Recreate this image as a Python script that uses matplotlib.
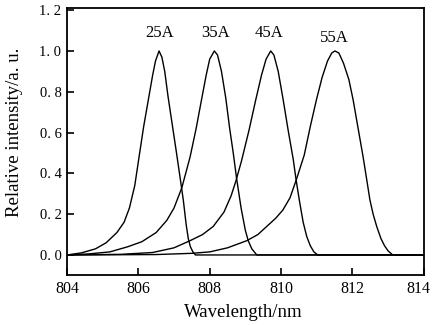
import matplotlib
matplotlib.use("Agg")
import matplotlib.pyplot as plt
from matplotlib.transforms import ScaledTranslation

plt.rcParams['font.family'] = ['Liberation Serif', 'DejaVu Serif']

# Series: wavelength (nm) and relative intensity
wl_25 = [804.0, 804.4, 804.8, 805.1, 805.4, 805.6, 805.75, 805.9, 806.02, 806.15, 806.3, 806.4,
         806.48, 806.58, 806.66, 806.74, 806.83, 806.95, 807.07, 807.17, 807.26, 807.34, 807.4,
         807.46, 807.53, 807.6, 814.0]
in_25 = [0.0, 0.01, 0.03, 0.06, 0.11, 0.16, 0.23, 0.34, 0.48, 0.63, 0.78, 0.88,
         0.95, 1.0, 0.97, 0.9, 0.78, 0.64, 0.50, 0.38, 0.27, 0.15, 0.08,
         0.04, 0.015, 0.0, 0.0]

wl_35 = [804.0, 804.6, 805.2, 805.7, 806.1, 806.5, 806.8, 807.0, 807.22, 807.45, 807.62, 807.77,
         807.9, 808.0, 808.13, 808.22, 808.33, 808.45, 808.56, 808.66, 808.75, 808.88, 809.0,
         809.08, 809.18, 809.32, 814.0]
in_35 = [0.0, 0.005, 0.015, 0.04, 0.065, 0.11, 0.17, 0.23, 0.33, 0.48, 0.62, 0.76,
         0.88, 0.96, 1.0, 0.98, 0.9, 0.77, 0.62, 0.50, 0.38, 0.23, 0.12,
         0.07, 0.03, 0.0, 0.0]

wl_45 = [804.0, 805.5, 806.4, 807.0, 807.45, 807.8, 808.1, 808.4, 808.6, 808.73, 808.89, 809.1,
         809.29, 809.45, 809.58, 809.71, 809.8, 809.92, 810.06, 810.2, 810.34, 810.42, 810.52,
         810.62, 810.72, 810.82, 810.92, 811.03, 814.0]
in_45 = [0.0, 0.003, 0.012, 0.035, 0.07, 0.1, 0.14, 0.21, 0.29, 0.36, 0.46, 0.61,
         0.76, 0.88, 0.96, 1.0, 0.98, 0.9, 0.76, 0.61, 0.47, 0.37, 0.26,
         0.16, 0.09, 0.045, 0.015, 0.0, 0.0]

wl_55 = [804.0, 806.5, 807.5, 808.0, 808.5, 809.04, 809.35, 809.6, 809.85, 810.05, 810.25, 810.43,
         810.65, 810.82, 810.99, 811.15, 811.3, 811.42, 811.51, 811.62, 811.75, 811.9, 812.02,
         812.15, 812.3, 812.4, 812.49, 812.58, 812.68, 812.8, 812.9, 813.0, 813.13, 814.0]
in_55 = [0.0, 0.002, 0.008, 0.015, 0.035, 0.07, 0.1, 0.14, 0.18, 0.22, 0.28, 0.37,
         0.49, 0.63, 0.76, 0.87, 0.95, 0.99, 1.0, 0.99, 0.94, 0.86, 0.76,
         0.63, 0.48, 0.37, 0.27, 0.2, 0.14, 0.08, 0.045, 0.02, 0.0, 0.0]

labels = ["25A", "35A", "45A", "55A"]
label_x = [806.6, 808.15, 809.66, 811.48]
label_y = [1.09, 1.09, 1.09, 1.065]

x_ticks = [804, 806, 808, 810, 812, 814]
y_ticks = [0.0, 0.2, 0.4, 0.6, 0.8, 1.0, 1.2]
y_tick_labels = ["0. 0", "0. 2", "0. 4", "0. 6", "0. 8", "1. 0", "1. 2"]

fig = plt.figure(figsize=(4.32, 3.25), dpi=100)
ax = fig.add_axes([0.155, 0.154, 0.826, 0.821])

for wl, it in [(wl_25, in_25), (wl_35, in_35), (wl_45, in_45), (wl_55, in_55)]:
    ax.plot(wl, it, color='black', lw=1.0)

for lab, lx, ly in zip(labels, label_x, label_y):
    ax.text(lx, ly, lab, ha='center', va='center', fontsize=12)

ax.set_xlim(804, 814)
ax.set_ylim(-0.098, 1.21)
ax.set_xticks(x_ticks)
ax.set_xticklabels([str(t) for t in x_ticks], fontsize=11.5)
ax.set_yticks(y_ticks)
ax.set_yticklabels(y_tick_labels, fontsize=10.5)
ax.tick_params(direction='in', length=5, width=1.2, pad=4)
for s in ax.spines.values():
    s.set_linewidth(1.3)

# keep the last x tick label inside the canvas
last = ax.get_xticklabels()[-1]
last.set_horizontalalignment('right')
last.set_transform(last.get_transform() + ScaledTranslation(7 / 100, 0, fig.dpi_scale_trans))

ax.set_xlabel("Wavelength/nm", fontsize=13.5)
ax.set_ylabel("Relative intensity/a. u.", fontsize=13.5)
ax.xaxis.set_label_coords(0.493, -0.142)
ax.yaxis.set_label_coords(-0.146, 0.536)
ax.xaxis.label.set_va('center')
ax.yaxis.label.set_va('center')

fig.savefig("out.png", dpi=100)
